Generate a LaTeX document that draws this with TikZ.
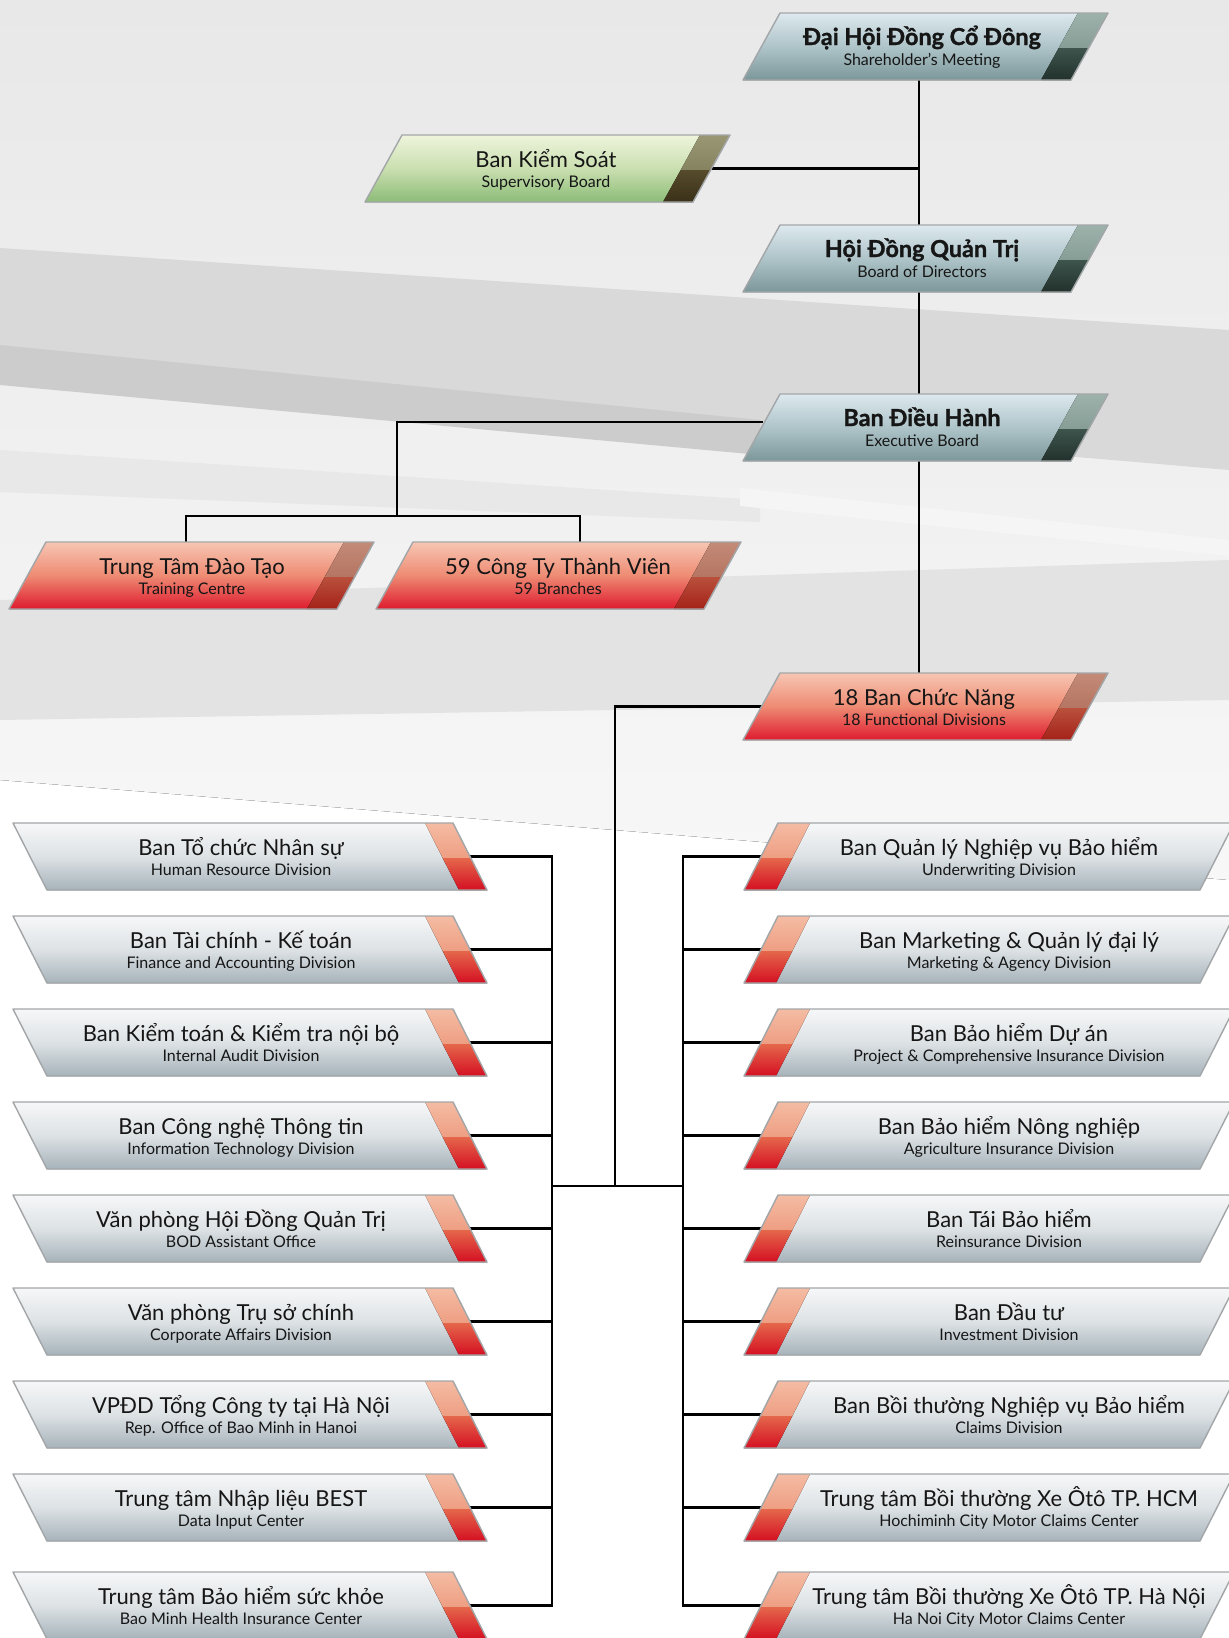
\documentclass[tikz,border=0pt]{standalone}
\usepackage{fontspec}
\setmainfont{Lato}[BoldFeatures={FakeBold=1.2}]
\pgfdeclarelayer{bg}
\pgfdeclarelayer{lines}
\pgfdeclarelayer{boxes}
\pgfsetlayers{bg,lines,boxes,main}
\definecolor{txt}{HTML}{161616}
\definecolor{boxedge}{HTML}{A3A6A8}
\definecolor{tealT}{HTML}{DDE9EE}
\definecolor{tealM}{HTML}{AEC4C9}
\definecolor{tealB}{HTML}{7C9799}
\definecolor{tealUt}{HTML}{9DB2AA}
\definecolor{tealUb}{HTML}{869D95}
\definecolor{tealLt}{HTML}{3E544D}
\definecolor{tealLb}{HTML}{22312C}
\definecolor{grnT}{HTML}{EEF4DC}
\definecolor{grnM}{HTML}{CADFB0}
\definecolor{grnB}{HTML}{8CBC78}
\definecolor{grnUt}{HTML}{9A9874}
\definecolor{grnUb}{HTML}{858260}
\definecolor{grnLt}{HTML}{564B2C}
\definecolor{grnLb}{HTML}{3A3018}
\definecolor{redT}{HTML}{F7C6B3}
\definecolor{redM}{HTML}{EE8B73}
\definecolor{redB}{HTML}{DE1A2E}
\definecolor{redUt}{HTML}{C38B78}
\definecolor{redUb}{HTML}{B57562}
\definecolor{redLt}{HTML}{B9503C}
\definecolor{redLb}{HTML}{A52218}
\definecolor{divT}{HTML}{F6F7F8}
\definecolor{divM}{HTML}{DDE2E5}
\definecolor{divB}{HTML}{A6B3BA}
\definecolor{accUt}{HTML}{F4BCA4}
\definecolor{accUb}{HTML}{EE9E82}
\definecolor{accLt}{HTML}{E4674B}
\definecolor{accLb}{HTML}{D50F22}
\tikzset{
  anchorbox/.style={rectangle,inner sep=0pt,minimum height=33.5pt,draw=none},
  boxline/.style={draw=boxedge,line width=0.7pt,line join=round},
  conn/.style={line width=1.4pt,draw=black,line cap=rect},
  titlebold/.style={anchor=base,inner sep=0pt,text=txt,font=\bfseries\fontsize{11.7}{13}\selectfont},
  titlereg/.style={anchor=base,inner sep=0pt,text=txt,font=\fontsize{11}{12}\selectfont},
  subtitle/.style={anchor=base,inner sep=0pt,text=txt,font=\fontsize{8}{10}\selectfont},
  title-teal/.style={titlebold},
  title-green/.style={titlereg},
  title-red/.style={titlereg},
  title-divl/.style={titlereg},
  title-divr/.style={titlereg},
  fill-teal/.style={top color=tealT,bottom color=tealB,middle color=tealM},
  fill-green/.style={top color=grnT,bottom color=grnB,middle color=grnM},
  fill-red/.style={top color=redT,bottom color=redB,middle color=redM},
  fill-divl/.style={top color=divT,bottom color=divB,middle color=divM},
  fill-divr/.style={top color=divT,bottom color=divB,middle color=divM},
  bandU-teal/.style={top color=tealUt,bottom color=tealUb},
  bandL-teal/.style={top color=tealLt,bottom color=tealLb},
  bandU-green/.style={top color=grnUt,bottom color=grnUb},
  bandL-green/.style={top color=grnLt,bottom color=grnLb},
  bandU-red/.style={top color=redUt,bottom color=redUb},
  bandL-red/.style={top color=redLt,bottom color=redLb},
  bandU-acc/.style={top color=accUt,bottom color=accUb},
  bandL-acc/.style={top color=accLt,bottom color=accLb},
}
\newcommand\pbbandR[3]{%
  \fill[#2] (\pbTR-#1,\pbT) -- (\pbTR,\pbT) -- (\pbmR,\pbmy) -- (\pbmR-#1,\pbmy) -- cycle;
  \fill[#3] (\pbmR-#1,\pbmy) -- (\pbmR,\pbmy) -- (\pbBR,\pbB) -- (\pbBR-#1,\pbB) -- cycle;}
\newcommand\pbbandL[3]{%
  \fill[#2] (\pbTL,\pbT) -- (\pbTL+#1,\pbT) -- (\pbmL+#1,\pbmy) -- (\pbmL,\pbmy) -- cycle;
  \fill[#3] (\pbmL,\pbmy) -- (\pbmL+#1,\pbmy) -- (\pbBL+#1,\pbB) -- (\pbBL,\pbB) -- cycle;}
\newcommand\pbbandteal{\pbbandR{30}{bandU-teal}{bandL-teal}}
\newcommand\pbbandgreen{\pbbandR{30}{bandU-green}{bandL-green}}
\newcommand\pbbandred{\pbbandR{30}{bandU-red}{bandL-red}}
\newcommand\pbbanddivl{\pbbandR{28}{bandU-acc}{bandL-acc}}
\newcommand\pbbanddivr{\pbbandL{32}{bandU-acc}{bandL-acc}}
% #1 name, #2 top y, #3 top-left x, #4 top-right x, #5 slant, #6 kind, #7 text x, #8 title, #9 subtitle
\newcommand\pbox[9]{%
  \pgfmathsetmacro\pbT{#2}%
  \pgfmathsetmacro\pbB{#2+67}%
  \pgfmathsetmacro\pbTL{#3}%
  \pgfmathsetmacro\pbTR{#4}%
  \pgfmathsetmacro\pbBL{#3-(#5)}%
  \pgfmathsetmacro\pbBR{#4-(#5)}%
  \pgfmathsetmacro\pbcx{(\pbTL+\pbTR+\pbBL+\pbBR)/4}%
  \pgfmathsetmacro\pbcy{#2+33.5}%
  \pgfmathsetmacro\pbw{(#4-#3)*0.5}%
  \pgfmathsetmacro\pbmy{#2+35}%
  \pgfmathsetmacro\pbmR{\pbTR+(\pbBR-\pbTR)*0.52}%
  \pgfmathsetmacro\pbmL{\pbTL+(\pbBL-\pbTL)*0.52}%
  \node[anchorbox,minimum width=\pbw pt] (#1) at (\pbcx,\pbcy) {};
  \node[title-#6] (#1-t) at (#7,#2+32) {#8};
  \node[subtitle] (#1-s) at (#7,#2+52) {#9};
  \begin{pgfonlayer}{boxes}
    \fill[fill-#6] (\pbTL,\pbT) -- (\pbTR,\pbT) -- (\pbBR,\pbB) -- (\pbBL,\pbB) -- cycle;
    \csname pbband#6\endcsname
    \draw[boxline] (\pbTL,\pbT) -- (\pbTR,\pbT) -- (\pbBR,\pbB) -- (\pbBL,\pbB) -- cycle;
  \end{pgfonlayer}
}
\begin{document}
\begin{tikzpicture}[x=0.5pt,y=-0.5pt]
\useasboundingbox (0,0) rectangle (1229,1638);
\begin{pgfonlayer}{bg}
  \fill[white] (0,0) rectangle (1229,1638);
  \fill[top color=black!9,bottom color=black!3] (0,0) -- (1229,0) -- (1229,880) -- (0,780) -- cycle;
  \fill[black!15] (0,248) -- (1229,330) -- (1229,470) -- (0,365) -- cycle;
  \fill[black!20] (0,345) -- (760,420) -- (760,455) -- (0,385) -- cycle;
  \fill[black!9] (0,450) -- (760,500) -- (760,522) -- (0,492) -- cycle;
  \fill[black!4] (740,488) -- (1229,540) -- (1229,556) -- (740,506) -- cycle;
  \fill[black!11] (0,600) -- (1229,560) -- (1229,700) -- (0,720) -- cycle;
\end{pgfonlayer}

\pbox{dh}{13}{780}{1108}{37}{teal}{922}{Đại Hội Đồng Cổ Đông}{Shareholder’s Meeting}
\pbox{bks}{135}{402}{730}{37}{green}{546}{Ban Kiểm Soát}{Supervisory Board}
\pbox{hdqt}{225}{780}{1108}{37}{teal}{922}{Hội Đồng Quản Trị}{Board of Directors}
\pbox{bdh}{394}{780}{1108}{37}{teal}{922}{Ban Điều Hành}{Executive Board}
\pbox{ttdt}{542}{46}{374}{37}{red}{192}{Trung Tâm Đào Tạo}{Training Centre}
\pbox{ctv}{542}{413}{741}{37}{red}{558}{59 Công Ty Thành Viên}{59 Branches}
\pbox{bcn}{673}{780}{1108}{37}{red}{924}{18 Ban Chức Năng}{18 Functional Divisions}

\pbox{l1}{823}{13}{453}{-34}{divl}{241}{Ban Tổ chức Nhân sự}{Human Resource Division}
\pbox{l2}{916}{13}{453}{-34}{divl}{241}{Ban Tài chính - Kế toán}{Finance and Accounting Division}
\pbox{l3}{1009}{13}{453}{-34}{divl}{241}{Ban Kiểm toán \& Kiểm tra nội bộ}{Internal Audit Division}
\pbox{l4}{1102}{13}{453}{-34}{divl}{241}{Ban Công nghệ Thông tin}{Information Technology Division}
\pbox{l5}{1195}{13}{453}{-34}{divl}{241}{Văn phòng Hội Đồng Quản Trị}{BOD Assistant Office}
\pbox{l6}{1288}{13}{453}{-34}{divl}{241}{Văn phòng Trụ sở chính}{Corporate Affairs Division}
\pbox{l7}{1381}{13}{453}{-34}{divl}{241}{VPĐD Tổng Công ty tại Hà Nội}{Rep. Office of Bao Minh in Hanoi}
\pbox{l8}{1474}{13}{453}{-34}{divl}{241}{Trung tâm Nhập liệu BEST}{Data Input Center}
\pbox{l9}{1572}{13}{453}{-34}{divl}{241}{Trung tâm Bảo hiểm sức khỏe}{Bao Minh Health Insurance Center}

\pbox{r1}{823}{778}{1234}{34}{divr}{999}{Ban Quản lý Nghiệp vụ Bảo hiểm}{Underwriting Division}
\pbox{r2}{916}{778}{1234}{34}{divr}{1009}{Ban Marketing \& Quản lý đại lý}{Marketing \& Agency Division}
\pbox{r3}{1009}{778}{1234}{34}{divr}{1009}{Ban Bảo hiểm Dự án}{Project \& Comprehensive Insurance Division}
\pbox{r4}{1102}{778}{1234}{34}{divr}{1009}{Ban Bảo hiểm Nông nghiệp}{Agriculture Insurance Division}
\pbox{r5}{1195}{778}{1234}{34}{divr}{1009}{Ban Tái Bảo hiểm}{Reinsurance Division}
\pbox{r6}{1288}{778}{1234}{34}{divr}{1009}{Ban Đầu tư}{Investment Division}
\pbox{r7}{1381}{778}{1234}{34}{divr}{1009}{Ban Bồi thường Nghiệp vụ Bảo hiểm}{Claims Division}
\pbox{r8}{1474}{778}{1234}{34}{divr}{1009}{Trung tâm Bồi thường Xe Ôtô TP. HCM}{Hochiminh City Motor Claims Center}
\pbox{r9}{1572}{778}{1234}{34}{divr}{1009}{Trung tâm Bồi thường Xe Ôtô TP. Hà Nội}{Ha Noi City Motor Claims Center}

\begin{pgfonlayer}{lines}
  \coordinate (tk) at (919,0);
  \coordinate (j0) at (397,516);
  \coordinate (jl) at (186,516);
  \coordinate (jr) at (580,516);
  \coordinate (jm) at (615,1186);
  \coordinate (ltk) at (552,0);
  \coordinate (rtk) at (683,0);
  \draw[conn] (dh.south -| tk) -- (hdqt.north -| tk);
  \draw[conn] (bks.east) -- (bks.east -| tk);
  \draw[conn] (hdqt.south -| tk) -- (bdh.north -| tk);
  \draw[conn] (bdh.south -| tk) -- (bcn.north -| tk);
  \draw[conn] ([yshift=2.75pt]bdh.west) -| (j0);
  \draw[conn] (jl) -- (jr);
  \draw[conn] (jl) -- (jl |- ttdt.north);
  \draw[conn] (jr) -- (jr |- ctv.north);
  \draw[conn] (bcn.west) -| (jm);
  \draw[conn] (jm -| ltk) -- (jm -| rtk);
  \draw[conn] (l1.east -| ltk) -- (l9.east -| ltk);
  \draw[conn] (r1.west -| rtk) -- (r9.west -| rtk);
  \foreach \n in {l1,l2,l3,l4,l5,l6,l7,l8,l9}{\draw[conn] (\n.east) -- (\n.east -| ltk);}
  \foreach \n in {r1,r2,r3,r4,r5,r6,r7,r8,r9}{\draw[conn] (\n.west) -- (\n.west -| rtk);}
\end{pgfonlayer}
\end{tikzpicture}
\end{document}
